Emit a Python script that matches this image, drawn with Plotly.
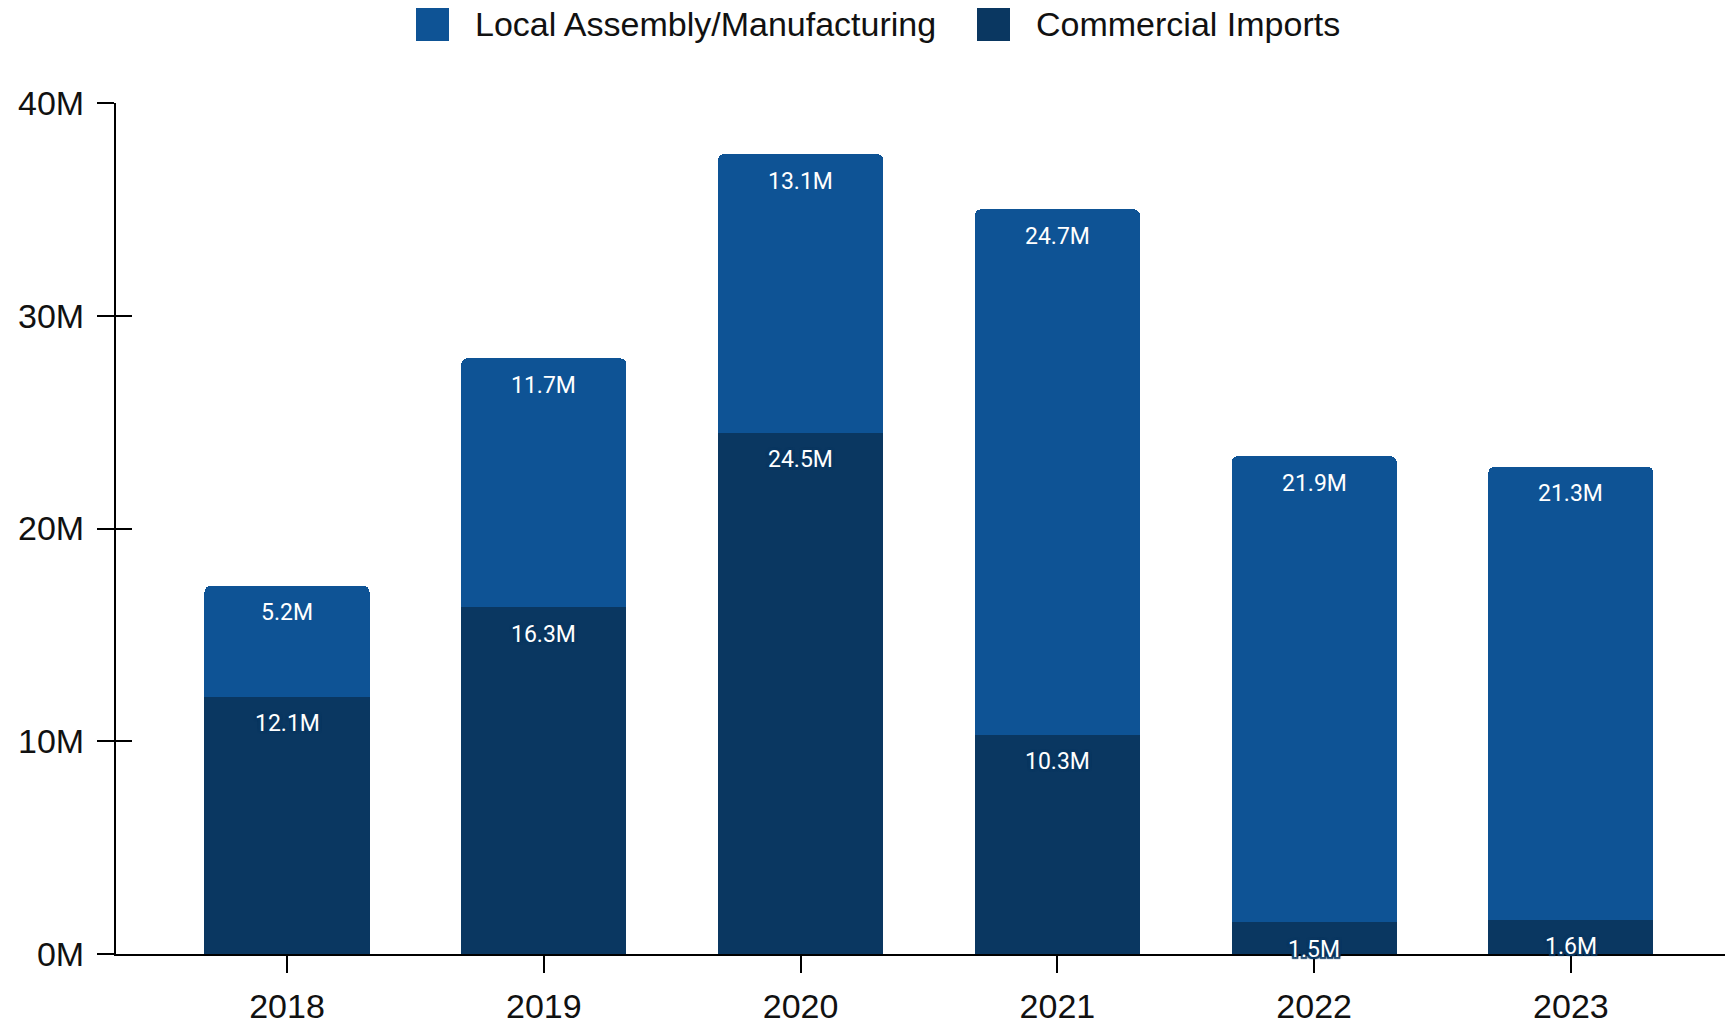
import plotly.graph_objects as go

# Vehicle supply by source, in millions of units
years = ["2018", "2019", "2020", "2021", "2022", "2023"]
commercial_imports = [12.1, 16.3, 24.5, 10.3, 1.5, 1.6]
local_assembly = [5.2, 11.7, 13.1, 24.7, 21.9, 21.3]

series_names = ["Local Assembly/Manufacturing", "Commercial Imports"]
series_colors = ["#0E5395", "#0A3761"]

W, H = 1725, 1024
M_L, M_R, M_T, M_B = 116, 0, 103, 70
PLOT_W = W - M_L - M_R
PLOT_H = H - M_T - M_B

fig = go.Figure()

fig.add_trace(go.Bar(
    x=years, y=commercial_imports, name=series_names[1],
    marker=dict(color=series_colors[1], line=dict(width=0)),
    width=0.643, showlegend=False, hoverinfo="x+y",
))
fig.add_trace(go.Bar(
    x=years, y=local_assembly, name=series_names[0],
    marker=dict(color=series_colors[0], line=dict(width=0)),
    width=0.643, showlegend=False, hoverinfo="x+y",
))
# empty trace so the overlaid y axis (inner tick halves) gets drawn
fig.add_trace(go.Scatter(x=[], y=[], yaxis="y2", showlegend=False, hoverinfo="skip"))

# Value labels just inside the top of each stacked segment
dark = series_colors[1]
outline = ", ".join(f"{dx}px {dy}px 1px {dark}" for dx in (-2, 0, 2) for dy in (-2, 0, 2) if dx or dy)
annotations = []
for i, (ci, la) in enumerate(zip(commercial_imports, local_assembly)):
    annotations.append(dict(
        x=i, y=ci, xref="x", yref="y", text=f"{ci}M", showarrow=False,
        yshift=-27, yanchor="middle",
        font=dict(family="Roboto", size=23, color="white", shadow=outline),
    ))
    annotations.append(dict(
        x=i, y=ci + la, xref="x", yref="y", text=f"{la}M", showarrow=False,
        yshift=-27, yanchor="middle",
        font=dict(family="Roboto", size=23, color="white"),
    ))

# Legend row at the top: swatch + label per series
legend_items = [(416, 473), (977, 1034)]
shapes = []
for (sx, tx), name, color in zip(legend_items, series_names, series_colors):
    shapes.append(dict(
        type="rect", xref="paper", yref="paper",
        x0=(sx - M_L) / PLOT_W, x1=(sx + 33 - M_L) / PLOT_W,
        y0=(H - M_B - 41) / PLOT_H, y1=(H - M_B - 8) / PLOT_H,
        fillcolor=color, line=dict(width=0), layer="above",
    ))
    annotations.append(dict(
        x=(tx - M_L) / PLOT_W, y=(H - M_B - 24) / PLOT_H,
        xref="paper", yref="paper", text=name, showarrow=False,
        xanchor="left", yanchor="middle",
        font=dict(family="Liberation Sans", size=34, color="#111111"),
    ))

fig.update_layout(
    width=W, height=H, autosize=False,
    margin=dict(l=M_L, r=M_R, t=M_T, b=M_B),
    barmode="stack", barcornerradius=6,
    plot_bgcolor="white", paper_bgcolor="white",
    font=dict(family="Liberation Sans", size=34, color="#111111"),
    xaxis=dict(
        type="category", range=[-0.666, 5.6],
        showline=True, linecolor="black", linewidth=2,
        ticks="outside", ticklen=17, tickwidth=2, tickcolor="black",
        showgrid=False, zeroline=False, ticklabelstandoff=4,
        tickfont=dict(family="Liberation Sans", size=34, color="#111111"),
    ),
    yaxis=dict(
        range=[0, 40], dtick=10, ticksuffix="M",
        showline=True, linecolor="black", linewidth=2,
        ticks="outside", ticklen=17, tickwidth=2, tickcolor="black",
        showgrid=False, zeroline=False, ticklabelstandoff=6,
        tickfont=dict(family="Liberation Sans", size=34, color="#111111"),
    ),
    # second copy of the y axis carries the inner half of the crossing ticks
    yaxis2=dict(
        overlaying="y", anchor="x", side="left", range=[0, 40], dtick=10,
        showline=False, showgrid=False, zeroline=False, showticklabels=False,
        ticks="inside", ticklen=16, tickwidth=2, tickcolor="black",
    ),
    shapes=shapes,
    annotations=annotations,
    showlegend=False,
)

fig.write_html("out.html")
